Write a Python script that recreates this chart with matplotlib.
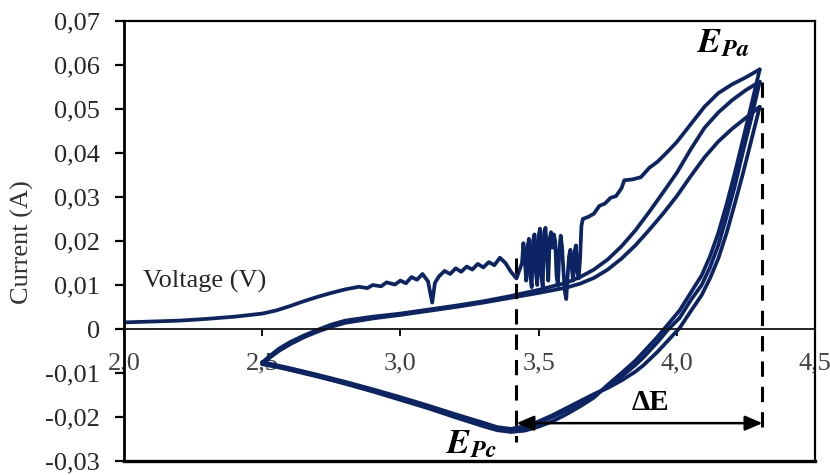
import matplotlib
matplotlib.use("Agg")
import matplotlib.pyplot as plt
from matplotlib.ticker import FuncFormatter

plt.rcParams['font.family'] = ['Liberation Serif', 'DejaVu Serif']
plt.rcParams['mathtext.fontset'] = 'stix'

# ---- Cycle 1: first anodic sweep from 2.0 V (noisy) -------------------------
v_anodic_1 = [2.00, 2.10, 2.20, 2.30, 2.40, 2.50, 2.55, 2.60, 2.65, 2.70, 2.75,
              2.80, 2.85, 2.88, 2.90, 2.93, 2.95, 2.98, 3.00, 3.02, 3.04, 3.06,
              3.08, 3.10, 3.115, 3.125, 3.14, 3.16, 3.18, 3.20, 3.22, 3.24,
              3.26, 3.28, 3.30, 3.32, 3.34, 3.36, 3.38, 3.40, 3.42, 3.44,
              3.445, 3.450, 3.455, 3.460, 3.465, 3.470, 3.475, 3.480, 3.485,
              3.490, 3.495, 3.500, 3.505, 3.510, 3.515, 3.520, 3.525, 3.530,
              3.535, 3.540, 3.545, 3.550, 3.555, 3.560, 3.565, 3.570, 3.575,
              3.580, 3.585, 3.590, 3.595, 3.600, 3.605, 3.610, 3.615, 3.620,
              3.625, 3.630, 3.635, 3.640, 3.645, 3.650, 3.655, 3.66, 3.68,
              3.70, 3.72, 3.74, 3.76, 3.78, 3.80, 3.81, 3.84, 3.87, 3.90, 3.93,
              3.97, 4.00, 4.05, 4.10, 4.15, 4.20, 4.25, 4.30]
i_anodic_1 = [0.0015, 0.0017, 0.0019, 0.0023, 0.0028, 0.0035, 0.0042, 0.0052,
              0.0063, 0.0073, 0.0082, 0.0090, 0.0096, 0.0093, 0.0100, 0.0097,
              0.0106, 0.0101, 0.0110, 0.0104, 0.0118, 0.0112, 0.0125, 0.0108,
              0.0060, 0.0105, 0.0120, 0.0132, 0.0125, 0.0138, 0.0130, 0.0142,
              0.0135, 0.0148, 0.0140, 0.0152, 0.0145, 0.0162, 0.0150, 0.0130,
              0.0115, 0.0150,
              0.0195, 0.0160, 0.0110, 0.0185, 0.0205, 0.0120, 0.0095, 0.0200,
              0.0215, 0.0130, 0.0100, 0.0210, 0.0228, 0.0120, 0.0095, 0.0220,
              0.0230, 0.0170, 0.0110, 0.0205, 0.0220, 0.0185, 0.0215, 0.0200,
              0.0120, 0.0098, 0.0180, 0.0212, 0.0185, 0.0130, 0.0085, 0.0068,
              0.0120, 0.0165, 0.0180, 0.0140, 0.0110, 0.0175, 0.0190, 0.0130,
              0.0115, 0.0160, 0.0235, 0.0250, 0.0255,
              0.0262, 0.0280, 0.0285, 0.0298, 0.0302, 0.0320, 0.0338,
              0.0340, 0.0345, 0.0366, 0.0380, 0.0405, 0.0425, 0.0465, 0.0505,
              0.0536, 0.0556, 0.0572, 0.0590]

# ---- Cycles 2 and 3: anodic sweeps from 2.5 V --------------------------------
v_anodic = [2.50, 2.53, 2.56, 2.60, 2.65, 2.70, 2.75, 2.80, 2.90, 3.00, 3.10,
            3.20, 3.30, 3.40, 3.50, 3.60, 3.65, 3.70, 3.75, 3.80, 3.85, 3.90,
            3.95, 4.00, 4.05, 4.10, 4.15, 4.20, 4.25, 4.30]
i_anodic_2 = [-0.0076, -0.0060, -0.0045, -0.0030, -0.0015, -0.0002, 0.0010,
              0.0019, 0.0028, 0.0035, 0.0044, 0.0053, 0.0063, 0.0075, 0.0089,
              0.0105, 0.0118, 0.0135, 0.0158, 0.0188, 0.0224, 0.0266, 0.0310,
              0.0355, 0.0408, 0.0457, 0.0492, 0.0520, 0.0543, 0.0562]
i_anodic_3 = [-0.0080, -0.0064, -0.0050, -0.0035, -0.0019, -0.0006, 0.0005,
              0.0014, 0.0024, 0.0032, 0.0041, 0.0050, 0.0060, 0.0071, 0.0082,
              0.0094, 0.0103, 0.0116, 0.0135, 0.0160, 0.0190, 0.0225, 0.0262,
              0.0302, 0.0347, 0.0390, 0.0426, 0.0455, 0.0480, 0.0505]

# ---- Cathodic sweeps, 4.3 V back to 2.5 V -----------------------------------
v_cathodic = [4.30, 4.27, 4.24, 4.21, 4.18, 4.15, 4.12, 4.09, 4.05, 4.01, 3.97,
              3.93, 3.88, 3.85, 3.80, 3.75, 3.70, 3.65, 3.60, 3.55, 3.50, 3.45,
              3.40, 3.35, 3.30, 3.20, 3.10, 3.00, 2.90, 2.80, 2.70, 2.60, 2.55,
              2.50]
i_cathodic_1 = [0.0590, 0.0510, 0.0432, 0.0355, 0.0283, 0.0218, 0.0165, 0.0122,
                0.0082, 0.0042, 0.0012, -0.0018, -0.0052, -0.0072, -0.0100,
                -0.0127, -0.0156, -0.0176, -0.0194, -0.0210, -0.0222, -0.0231,
                -0.0234, -0.0230, -0.0221, -0.0201, -0.0180, -0.0161, -0.0142,
                -0.0124, -0.0107, -0.0092, -0.0084, -0.0076]
i_cathodic_2 = [0.0562, 0.0480, 0.0405, 0.0325, 0.0255, 0.0190, 0.0140, 0.0100,
                0.0065, 0.0025, 0.0000, -0.0030, -0.0064, -0.0082, -0.0108,
                -0.0132, -0.0150, -0.0168, -0.0185, -0.0200, -0.0214, -0.0225,
                -0.0230, -0.0226, -0.0217, -0.0198, -0.0178, -0.0159, -0.0141,
                -0.0124, -0.0108, -0.0093, -0.0086, -0.0080]
i_cathodic_3 = [0.0505, 0.0430, 0.0355, 0.0285, 0.0218, 0.0160, 0.0115, 0.0077,
                0.0040, 0.0002, -0.0025, -0.0052, -0.0082, -0.0097, -0.0117,
                -0.0134, -0.0148, -0.0164, -0.0180, -0.0196, -0.0210, -0.0221,
                -0.0227, -0.0223, -0.0213, -0.0194, -0.0174, -0.0155, -0.0137,
                -0.0120, -0.0104, -0.0089, -0.0082, -0.0075]

# ---- Peak markers ------------------------------------------------------------
e_pc = 3.42          # cathodic peak potential (V)
e_pa = 4.31          # anodic peak potential (V)
pc_top, pc_bottom = 0.0161, -0.0257
pa_top, pa_bottom = 0.0561, -0.0237
delta_e_level = -0.0214

x_ticks = [2.0, 2.5, 3.0, 3.5, 4.0, 4.5]
y_ticks = [-0.03, -0.02, -0.01, 0.0, 0.01, 0.02, 0.03, 0.04, 0.05, 0.06, 0.07]

W, H = 830, 475
fig = plt.figure(figsize=(W / 100, H / 100), dpi=100)
ax = fig.add_axes([124 / W, 1 - 461 / H, (815 - 124) / W, (461 - 21) / H])

navy = '#0c2463'
lw = 2.7
curves = [(v_anodic_1, i_anodic_1), (v_cathodic, i_cathodic_1),
          (v_anodic, i_anodic_2), (v_cathodic, i_cathodic_2),
          (v_anodic, i_anodic_3), (v_cathodic, i_cathodic_3)]
for xs, ys in curves:
    ax.plot(xs, ys, color=navy, lw=lw, solid_joinstyle='round',
            solid_capstyle='round')

ax.set_xlim(2.0, 4.5)
ax.set_ylim(-0.03, 0.07)

# frame: left axis plus box, horizontal axis crossing at zero
for side in ('top', 'right', 'left'):
    ax.spines[side].set_color('black')
    ax.spines[side].set_linewidth(1.6)
ax.spines['left'].set_linewidth(2.0)
ax.spines['bottom'].set_position(('data', 0))
ax.spines['bottom'].set_color('#111111')
ax.spines['bottom'].set_linewidth(1.3)
ax.axhline(-0.03, color='black', lw=2.4, clip_on=False)

ax.set_xticks(x_ticks)
ax.set_yticks(y_ticks)
ax.xaxis.set_major_formatter(FuncFormatter(lambda v, p: f'{v:.1f}'.replace('.', ',')))
ax.yaxis.set_major_formatter(FuncFormatter(
    lambda v, p: '0' if abs(v) < 1e-9 else f'{v:.2f}'.replace('.', ',')))
ax.tick_params(axis='y', direction='out', length=6.5, width=1.6, pad=11,
               labelsize=19, labelcolor='#262626')
ax.tick_params(axis='x', direction='out', length=5, width=1.3, pad=12,
               labelsize=19, labelcolor='#404040')
for lab in ax.get_xticklabels():
    lab.set_clip_on(False)

# peak potentials and separation
dash = (0, (5, 3.3))
ax.plot([e_pc, e_pc], [pc_top, pc_bottom], color='black', lw=2.2, linestyle=dash)
ax.plot([e_pa, e_pa], [pa_top, pa_bottom], color='black', lw=2.2, linestyle=dash)
ax.annotate('', xy=(e_pc, delta_e_level), xytext=(e_pa, delta_e_level),
            arrowprops=dict(arrowstyle='<|-|>,head_length=0.7,head_width=0.3',
                            color='black', lw=1.8, mutation_scale=15,
                            shrinkA=0, shrinkB=0))

ax.text(3.906, -0.0166, 'ΔE', fontsize=21, fontweight='bold', ha='center',
        va='center', color='black')
ax.text(4.167, 0.0648, r'$\boldsymbol{E}_{\boldsymbol{Pa}}$', fontsize=25,
        ha='center', va='center', color='black')
ax.text(3.257, -0.0262, r'$\boldsymbol{E}_{\boldsymbol{Pc}}$', fontsize=25,
        ha='center', va='center', color='black')

ax.text(2.07, 0.0107, 'Voltage (V)', fontsize=19, ha='left', va='center',
        color='#262626')
fig.text(22 / W, 1 - 242 / H, 'Current (A)', rotation=90, fontsize=19,
         ha='center', va='center', color='#333333')

fig.savefig('out.png', dpi=100)
